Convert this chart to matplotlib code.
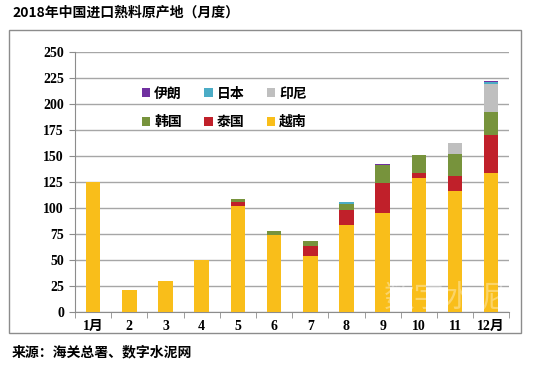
import numpy as np
import matplotlib
matplotlib.use('Agg')
import matplotlib.pyplot as plt
from matplotlib.patches import Rectangle

plt.rcParams['font.family'] = ['Liberation Serif', 'Noto Sans CJK SC', 'DejaVu Sans']

months = ['1月', '2', '3', '4', '5', '6', '7', '8', '9', '10', '11', '12月']

# stacked from the bottom up
vietnam  = [125, 21, 30, 50, 102, 74, 54, 84, 95, 128.5, 116, 134]
thailand = [0, 0, 0, 0, 3.5, 0, 9, 14, 29, 5, 15, 36]
korea    = [0, 0, 0, 0, 3.5, 4, 5, 5.5, 17.5, 17.5, 21, 22]
indonesia = [0, 0, 0, 0, 0, 0, 0.5, 0, 0, 0, 10, 27]
japan    = [0, 0, 0, 0, 0, 0, 0, 2, 0, 0, 0, 2]
iran     = [0, 0, 0, 0, 0, 0, 0, 0, 0.7, 0, 0.8, 1.5]

series = [
    ('越南', vietnam, '#F9BE1A'),
    ('泰国', thailand, '#C0202A'),
    ('韩国', korea, '#77933C'),
    ('印尼', indonesia, '#BFBFBF'),
    ('日本', japan, '#4BACC6'),
    ('伊朗', iran, '#7030A0'),
]

fig = plt.figure(figsize=[5.56, 3.68], dpi=100)
ax = fig.add_axes([0.135, 0.152, 0.781, 0.707])

x = np.arange(len(months))
bottom = np.zeros(len(months))
handles = {}
for name, vals, col in series:
    vals = np.array(vals, dtype=float)
    h = ax.bar(x, vals, width=0.4, bottom=bottom, color=col, label=name, zorder=3)
    handles[name] = h
    bottom += vals

ax.set_ylim(0, 250)
ax.set_xlim(-0.5, len(months) - 0.5)
ax.set_yticks(np.arange(0, 251, 25))
ax.yaxis.grid(True, color='#A6A6A6', linewidth=1.0, zorder=0)
ax.set_axisbelow(True)

for s in ['top', 'right']:
    ax.spines[s].set_visible(False)
for s in ['left', 'bottom']:
    ax.spines[s].set_color('#8C8C8C')

ax.set_xticks(x)
ax.set_xticklabels(months, fontweight='bold', fontsize=10,
                   family=['Liberation Serif', 'Noto Sans CJK SC'])
ax.tick_params(axis='x', which='major', length=0, pad=6)
ax.set_xticks(np.arange(-0.5, len(months), 1), minor=True)
ax.tick_params(axis='x', which='minor', length=4, color='#8C8C8C', direction='out')
ax.tick_params(axis='y', length=4, color='#8C8C8C', labelsize=10, pad=4)
for lab in ax.get_yticklabels():
    lab.set_fontweight('bold')

order = ['伊朗', '韩国', '日本', '泰国', '印尼', '越南']
leg = ax.legend([handles[n] for n in order], order, ncol=3, frameon=False,
                loc='upper left', bbox_to_anchor=(0.125, 0.915),
                prop={'family': 'Noto Sans CJK SC', 'weight': 'bold', 'size': 10},
                handlelength=0.6, handleheight=0.6, handletextpad=0.3,
                columnspacing=1.6, labelspacing=1.05)

# faint watermark
fig.text(0.80, 0.19, '数字水泥', family='Noto Sans CJK SC', fontsize=22,
         color='white', alpha=0.35, ha='center', va='center', zorder=10)

# outer frame
fig.patches.append(Rectangle((9 / 556, 1 - 333 / 368), 512 / 556, 303 / 368,
                             transform=fig.transFigure, fill=False,
                             edgecolor='#8C8C8C', linewidth=1.0))

fig.text(12 / 556, 1 - 13 / 368, '2018年中国进口熟料原产地（月度）',
         family='Noto Sans CJK SC', fontsize=10, fontweight='bold', va='center', ha='left')
fig.text(12 / 556, 1 - 352 / 368, '来源：海关总署、数字水泥网',
         family='Noto Sans CJK SC', fontsize=10, fontweight='bold', va='center', ha='left')

plt.savefig('out.png', dpi=100)
